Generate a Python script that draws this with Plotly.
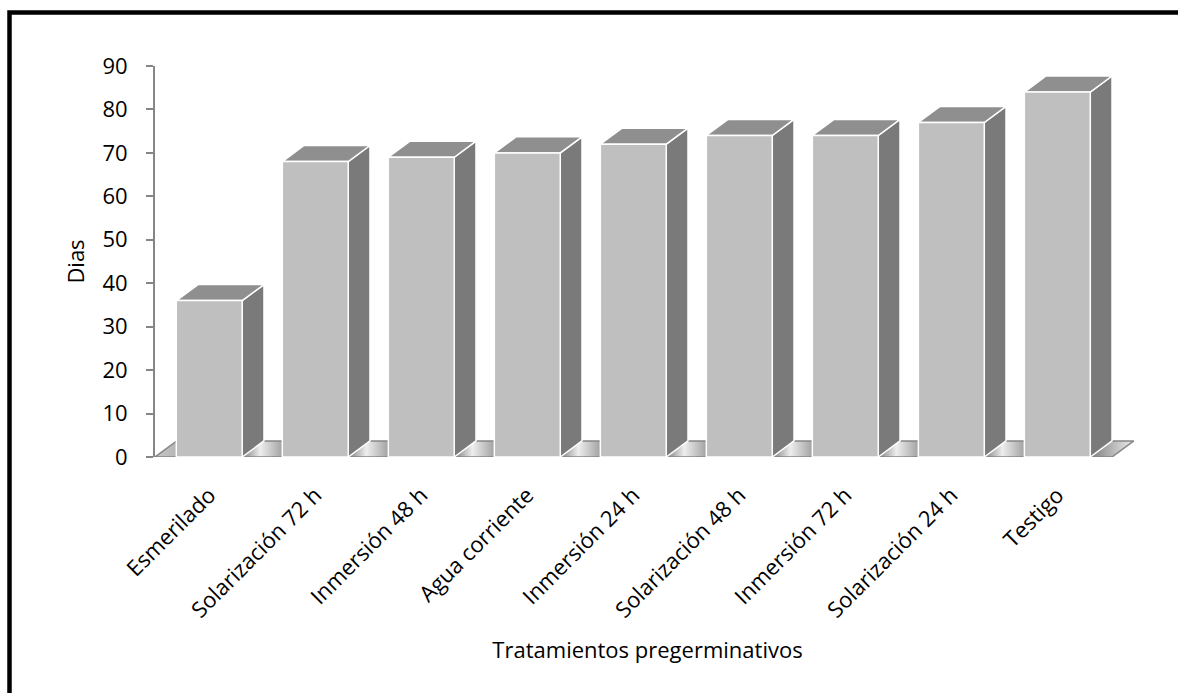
import plotly.graph_objects as go

# Days to germination per pre-germination treatment
tratamientos = [
    "Esmerilado", "Solarización 72 h", "Inmersión 48 h", "Agua corriente",
    "Inmersión 24 h", "Solarización 48 h", "Inmersión 72 h",
    "Solarización 24 h", "Testigo",
]
dias = [36, 68, 69, 70, 72, 74, 74, 77, 84]
y_ticks = [0, 10, 20, 30, 40, 50, 60, 70, 80, 90]

# pseudo-3D column geometry (in axis units)
HALF_W = 0.311   # half width of the front face
DX = 0.205       # depth offset to the right
DY = 3.7         # depth offset upwards
X_MIN, X_MAX = -0.512, 8.78

FRONT = "#bfbfbf"
TOP = "#8f8f8f"
SIDE = "#7a7a7a"
EDGE = "#ffffff"
AXIS = "#868686"
FONT = "Open Sans"
FSIZE = 22

W, H = 1178, 693
L, R, T, B = 155, 38, 66, 236

fig = go.Figure()


def face(xs, ys, color, line_color=EDGE, line_width=1.5, **kw):
    fig.add_trace(go.Scatter(
        x=xs + [xs[0]], y=ys + [ys[0]], mode="lines", fill="toself",
        fillcolor=color, line=dict(color=line_color, width=line_width),
        hoverinfo="skip", showlegend=False, **kw))


# floor with a metallic gradient between the columns
n = len(tratamientos)
fx0 = X_MIN
fx1 = (n - 1) + HALF_W + DX
span = (fx1 + DX) - fx0
stops = [[0.0, "#c8c8c8"]]
for i in range(n):
    a = (i + HALF_W - fx0) / span
    b = (i + 1 - HALF_W - fx0) / span if i < n - 1 else 1.0
    if a <= stops[-1][0]:
        a = stops[-1][0] + 1e-4
    stops.append([a, "#7e7e7e"])
    stops.append([min(a + (b - a) * 0.45, 1.0), "#eeeeee"])
    if b < 1.0:
        stops.append([b, "#a2a2a2"])
stops[-1][0] = 1.0
fig.add_trace(go.Scatter(
    x=[fx0, fx1, fx1 + DX, fx0 + DX, fx0], y=[0, 0, DY, DY, 0],
    mode="lines", fill="toself",
    fillgradient=dict(type="horizontal", colorscale=stops),
    line=dict(color=AXIS, width=1.5), hoverinfo="skip", showlegend=False))

# columns: side, top, front faces
for i, v in enumerate(dias):
    xl, xr = i - HALF_W, i + HALF_W
    face([xr, xr + DX, xr + DX, xr], [0, DY, v + DY, v], SIDE)
    face([xl, xr, xr + DX, xl + DX], [v, v, v + DY, v + DY], TOP)
    face([xl, xr, xr, xl], [0, 0, v, v], FRONT)

# paper coordinates of the outer frame (left and top edges)
pw, ph = W - L - R, H - T - B
frame = dict(
    type="rect", xref="paper", yref="paper",
    x0=(9.5 - L) / pw, x1=(W + 20 - L) / pw,
    y0=(H - B - (H + 20)) / ph, y1=(H - B - 12.5) / ph,
    line=dict(color="#000000", width=4.5), fillcolor="rgba(0,0,0,0)",
    layer="above")

fig.update_layout(
    width=W, height=H,
    margin=dict(l=L, r=R, t=T, b=B, pad=0),
    paper_bgcolor="#ffffff", plot_bgcolor="#ffffff",
    font=dict(family=FONT, size=FSIZE, color="#000000"),
    showlegend=False,
    shapes=[frame],
    xaxis=dict(
        range=[X_MIN, X_MAX], tickmode="array",
        tickvals=list(range(n)), ticktext=tratamientos,
        tickangle=-45, ticks="", showline=False, showgrid=False,
        zeroline=False, ticklabelstandoff=20,
        title=dict(text="Tratamientos pregerminativos", standoff=20,
                   font=dict(size=FSIZE)),
        fixedrange=True,
    ),
    yaxis=dict(
        range=[0, 90], tickmode="array", tickvals=y_ticks,
        showline=True, linecolor=AXIS, linewidth=2,
        ticks="outside", ticklen=7, tickwidth=2, tickcolor=AXIS,
        showgrid=False, zeroline=False, ticklabelstandoff=14,
        title=dict(text="Dias", standoff=12, font=dict(size=FSIZE)),
        fixedrange=True,
    ),
)

fig.write_html("out.html")
